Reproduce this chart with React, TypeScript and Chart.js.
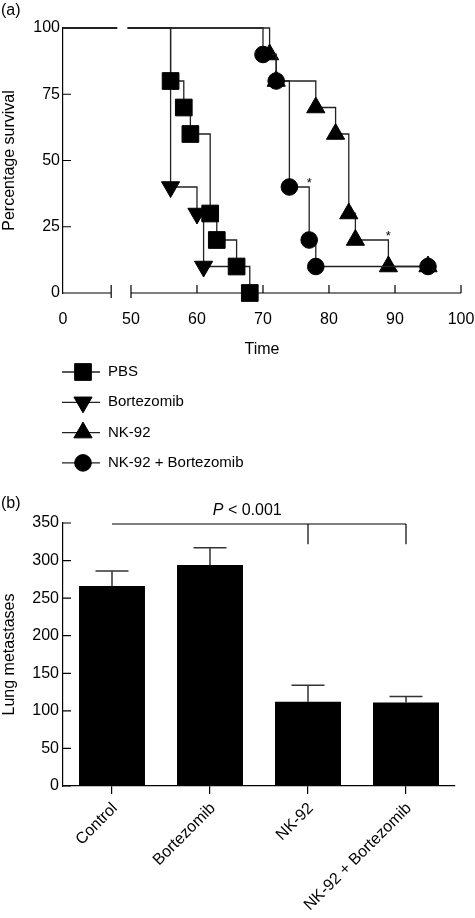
import React, { useEffect, useRef } from 'react';
import { Chart, registerables } from 'chart.js';
import { drawPoint } from 'chart.js/helpers';

Chart.register(...registerables);

const FONT = '"Liberation Sans", Arial, Helvetica, sans-serif';
Chart.defaults.font.family = FONT;
Chart.defaults.color = '#000';

// ---------- (a) survival data ----------
const seriesNames = ['PBS', 'Bortezomib', 'NK-92', 'NK-92 + Bortezomib'];
const pbsTime = [56, 58, 59, 62, 63, 66, 68];
const pbsSurvival = [80, 70, 60, 30, 20, 10, 0];
const bortTime = [56, 60, 61, 66];
const bortSurvival = [40, 30, 10, 10];
const bortMarker = [true, true, true, false];
const nkTime = [71, 72, 78, 81, 83, 84, 89, 95];
const nkSurvival = [90, 80, 70, 60, 30, 20, 10, 10];
const comboTime = [70, 72, 74, 77, 78, 95];
const comboSurvival = [90, 80, 40, 20, 10, 10];
const starTime = [77, 89];
const starSurvival = [42.5, 22.5];
const timeTicks = [0, 50, 60, 70, 80, 90, 100];
const survivalTicks = [0, 25, 50, 75, 100];

// ---------- (b) lung metastases data ----------
const groups = ['Control', 'Bortezomib', 'NK-92', 'NK-92 + Bortezomib'];
const metastases = [266, 294, 112, 111];
const metastasesSem = [20, 23, 22, 8];
const metTicks = [0, 50, 100, 150, 200, 250, 300, 350];
const pText = '< 0.001';

// axis break handling (time 0..50 compressed into a short first segment)
const AXIS_ZERO = 39.7;
const BREAK_A = 47;
const BREAK_B = 50;
const GAP_A = 47.9;
const GAP_B = 49.5;
const toAxis = (t: number) => (t >= 50 ? t : AXIS_ZERO + (t / 50) * (BREAK_A - AXIS_ZERO));

function kmPoints(times: number[], surv: number[], shown?: boolean[]) {
  const pts: any[] = [
    { x: toAxis(0), y: 100, m: false },
    { x: GAP_A, y: 100, m: false },
    { x: (GAP_A + GAP_B) / 2, y: null, m: false },
    { x: GAP_B, y: 100, m: false },
  ];
  times.forEach((t, i) => pts.push({ x: toAxis(t), y: surv[i], m: shown ? shown[i] : true }));
  return pts;
}

const markers = [
  { style: 'rect', rot: 0, r: 11.8 },
  { style: 'triangle', rot: 180, r: 10.5 },
  { style: 'triangle', rot: 0, r: 10.5 },
  { style: 'circle', rot: 0, r: 8.3 },
];
const drawOrder = [0, 3, 2, 1];
const LINE = '#222';

const survPlugin = {
  id: 'survExtras',
  beforeDatasetsDraw(chart: any) {
    const { ctx, chartArea, scales } = chart;
    const x = scales.x;
    const y = scales.y;
    const yb = y.getPixelForValue(0);
    ctx.save();
    ctx.strokeStyle = '#000';
    ctx.lineWidth = 1.2;
    ctx.beginPath();
    ctx.moveTo(x.getPixelForValue(toAxis(0)), yb);
    ctx.lineTo(x.getPixelForValue(BREAK_A), yb);
    ctx.moveTo(x.getPixelForValue(BREAK_B), yb);
    ctx.lineTo(x.getPixelForValue(100), yb);
    [BREAK_A, BREAK_B].forEach((v) => {
      const px = x.getPixelForValue(v);
      ctx.moveTo(px, yb - 8);
      ctx.lineTo(px, yb + 5);
    });
    timeTicks.forEach((t) => {
      if (t > 50) {
        const px = x.getPixelForValue(t);
        ctx.moveTo(px, yb);
        ctx.lineTo(px, yb - 8);
      }
    });
    survivalTicks.forEach((s) => {
      const py = y.getPixelForValue(s);
      ctx.moveTo(chartArea.left, py);
      ctx.lineTo(chartArea.left + 8, py);
    });
    ctx.stroke();
    ctx.restore();
  },
  afterDatasetsDraw(chart: any) {
    const { ctx, scales } = chart;
    ctx.save();
    ctx.fillStyle = '#000';
    ctx.font = `13px ${FONT}`;
    ctx.textAlign = 'center';
    ctx.textBaseline = 'middle';
    starTime.forEach((t, i) => {
      ctx.fillText('*', scales.x.getPixelForValue(t), scales.y.getPixelForValue(starSurvival[i]) + 3);
    });
    ctx.restore();
  },
  afterDraw(chart: any) {
    const { ctx, chartArea } = chart;
    ctx.save();
    chart.data.datasets.forEach((ds: any, i: number) => {
      const yy = chartArea.bottom + 79 + i * 30.3;
      ctx.strokeStyle = LINE;
      ctx.lineWidth = 1.3;
      ctx.beginPath();
      ctx.moveTo(62, yy);
      ctx.lineTo(100, yy);
      ctx.stroke();
      ctx.fillStyle = '#000';
      ctx.strokeStyle = '#000';
      ctx.lineWidth = 1;
      drawPoint(ctx, { pointStyle: markers[i].style as any, rotation: markers[i].rot, radius: markers[i].r, borderWidth: 1 }, 83, yy);
      ctx.font = `15px ${FONT}`;
      ctx.textAlign = 'left';
      ctx.textBaseline = 'middle';
      ctx.fillText(ds.label, 108, yy);
    });
    ctx.font = `16px ${FONT}`;
    ctx.textAlign = 'left';
    ctx.textBaseline = 'middle';
    ctx.fillStyle = '#000';
    ctx.fillText('(a)', 1, 11);
    ctx.restore();
  },
};

const BRACKET_TOP = 348.7;
const BRACKET_DROP = 321.6;
const P_POS = 1.38;
const P_LEVEL = 367;

const barPlugin = {
  id: 'barExtras',
  afterDatasetsDraw(chart: any) {
    const { ctx, chartArea, scales } = chart;
    const x = scales.x;
    const y = scales.y;
    ctx.save();
    ctx.strokeStyle = '#000';
    ctx.lineWidth = 1.2;
    ctx.beginPath();
    metTicks.forEach((v) => {
      const py = y.getPixelForValue(v);
      ctx.moveTo(chartArea.left, py);
      ctx.lineTo(chartArea.left + 8, py);
    });
    ctx.stroke();

    const meta = chart.getDatasetMeta(0);
    ctx.strokeStyle = '#333';
    ctx.lineWidth = 1.5;
    ctx.beginPath();
    meta.data.forEach((bar: any, i: number) => {
      const top = y.getPixelForValue(metastases[i] + metastasesSem[i]);
      const half = bar.width / 4;
      ctx.moveTo(bar.x, bar.y);
      ctx.lineTo(bar.x, top);
      ctx.moveTo(bar.x - half, top);
      ctx.lineTo(bar.x + half, top);
    });
    ctx.stroke();

    const by = y.getPixelForValue(BRACKET_TOP);
    const bd = y.getPixelForValue(BRACKET_DROP);
    ctx.strokeStyle = '#555';
    ctx.lineWidth = 1.5;
    ctx.beginPath();
    ctx.moveTo(x.getPixelForValue(0), by);
    ctx.lineTo(x.getPixelForValue(3), by);
    ctx.stroke();
    ctx.strokeStyle = '#000';
    ctx.lineWidth = 1.2;
    ctx.beginPath();
    [2, 3].forEach((i) => {
      const px = x.getPixelForValue(i);
      ctx.moveTo(px, by);
      ctx.lineTo(px, bd);
    });
    ctx.stroke();

    ctx.fillStyle = '#000';
    ctx.textBaseline = 'middle';
    ctx.textAlign = 'left';
    ctx.font = `italic 16px ${FONT}`;
    const wP = ctx.measureText('P').width;
    ctx.font = `16px ${FONT}`;
    const rest = ' ' + pText;
    const wR = ctx.measureText(rest).width;
    const cx = x.getPixelForValue(P_POS);
    const py = y.getPixelForValue(P_LEVEL);
    const sx = cx - (wP + wR) / 2;
    ctx.font = `italic 16px ${FONT}`;
    ctx.fillText('P', sx, py);
    ctx.font = `16px ${FONT}`;
    ctx.fillText(rest, sx + wP, py);

    ctx.font = `16px ${FONT}`;
    ctx.fillText('(b)', 1, 24);
    ctx.restore();
  },
};

function SurvivalChart() {
  const ref = useRef<HTMLCanvasElement>(null);
  useEffect(() => {
    const series = [
      kmPoints(pbsTime, pbsSurvival),
      kmPoints(bortTime, bortSurvival, bortMarker),
      kmPoints(nkTime, nkSurvival),
      kmPoints(comboTime, comboSurvival),
    ];
    const chart = new Chart(ref.current as HTMLCanvasElement, {
      type: 'line',
      data: {
        datasets: series.map((data, i) => ({
          label: seriesNames[i],
          data,
          order: drawOrder[i],
          stepped: true,
          spanGaps: false,
          fill: false,
          clip: false,
          borderColor: LINE,
          borderWidth: 1.3,
          pointStyle: markers[i].style,
          pointRotation: markers[i].rot,
          pointRadius: (c: any) => (c.raw && c.raw.m ? markers[i].r : 0),
          pointHoverRadius: (c: any) => (c.raw && c.raw.m ? markers[i].r : 0),
          pointBackgroundColor: '#000',
          pointBorderColor: '#000',
          pointBorderWidth: 1,
        })) as any,
      },
      options: {
        animation: false,
        responsive: false,
        events: [],
        layout: { padding: { top: 28, left: 0, right: 0, bottom: 121 } },
        plugins: { legend: { display: false }, tooltip: { enabled: false } },
        scales: {
          x: {
            type: 'linear',
            min: toAxis(0),
            max: 100,
            grid: { display: false, drawTicks: false },
            border: { display: false },
            afterBuildTicks: (s: any) => {
              s.ticks = timeTicks.map((t) => ({ value: toAxis(t) }));
            },
            ticks: {
              autoSkip: false,
              maxRotation: 0,
              padding: 17,
              font: { size: 16 },
              color: '#000',
              callback: (_v: any, idx: number) => String(timeTicks[idx]),
            },
            title: { display: true, text: 'Time', font: { size: 16 }, color: '#000', padding: { top: 0, bottom: 0 } },
            afterFit: (s: any) => {
              s.height = 66;
              s.paddingRight = 14;
              s.paddingLeft = 0;
            },
          },
          y: {
            min: 0,
            max: 100,
            grid: { display: false, drawTicks: false },
            border: { display: true, color: '#000', width: 1.2 },
            afterBuildTicks: (s: any) => {
              s.ticks = survivalTicks.map((v) => ({ value: v }));
            },
            ticks: { padding: 3, font: { size: 16 }, color: '#000' },
            title: { display: true, text: 'Percentage survival', font: { size: 16 }, color: '#000', padding: { top: 0, bottom: 0 } },
            afterFit: (s: any) => {
              s.width = 63;
            },
          },
        },
      } as any,
      plugins: [survPlugin],
    });
    return () => chart.destroy();
  }, []);
  return <canvas ref={ref} width={475} height={480} style={{ position: 'absolute', left: 0, top: 0, display: 'block' }} />;
}

function MetastasesChart() {
  const ref = useRef<HTMLCanvasElement>(null);
  useEffect(() => {
    const chart = new Chart(ref.current as HTMLCanvasElement, {
      type: 'bar',
      data: {
        labels: groups,
        datasets: [
          {
            label: 'Lung metastases',
            data: metastases,
            backgroundColor: '#000',
            borderWidth: 0,
            barPercentage: 0.673,
            categoryPercentage: 1,
          },
        ],
      },
      options: {
        animation: false,
        responsive: false,
        events: [],
        layout: { padding: { top: 43, left: 0, right: 20, bottom: 0 } },
        plugins: { legend: { display: false }, tooltip: { enabled: false } },
        scales: {
          x: {
            grid: { display: true, drawOnChartArea: false, drawTicks: true, tickLength: 8, color: '#000', lineWidth: 1.2, offset: false },
            border: { display: true, color: '#000', width: 1.2 },
            ticks: { autoSkip: false, minRotation: 45, maxRotation: 45, padding: 5, labelOffset: 3, font: { size: 16 }, color: '#000' },
            afterFit: (s: any) => {
              s.height = 132;
              s.paddingRight = 0;
              s.paddingLeft = 0;
            },
          },
          y: {
            min: 0,
            max: 350,
            grid: { display: false, drawTicks: false },
            border: { display: true, color: '#000', width: 1.2 },
            afterBuildTicks: (s: any) => {
              s.ticks = metTicks.map((v) => ({ value: v }));
            },
            ticks: { padding: 4, font: { size: 16 }, color: '#000' },
            title: { display: true, text: 'Lung metastases', font: { size: 16 }, color: '#000', padding: { top: 0, bottom: 0 } },
            afterFit: (s: any) => {
              s.width = 63;
            },
          },
        },
      } as any,
      plugins: [barPlugin],
    });
    return () => chart.destroy();
  }, []);
  return <canvas ref={ref} width={475} height={438} style={{ position: 'absolute', left: 0, top: 480, display: 'block' }} />;
}

export default function App() {
  return (
    <div style={{ position: 'fixed', left: 0, top: 0, width: 475, height: 918, background: '#fff', overflow: 'hidden' }}>
      <SurvivalChart />
      <MetastasesChart />
    </div>
  );
}
